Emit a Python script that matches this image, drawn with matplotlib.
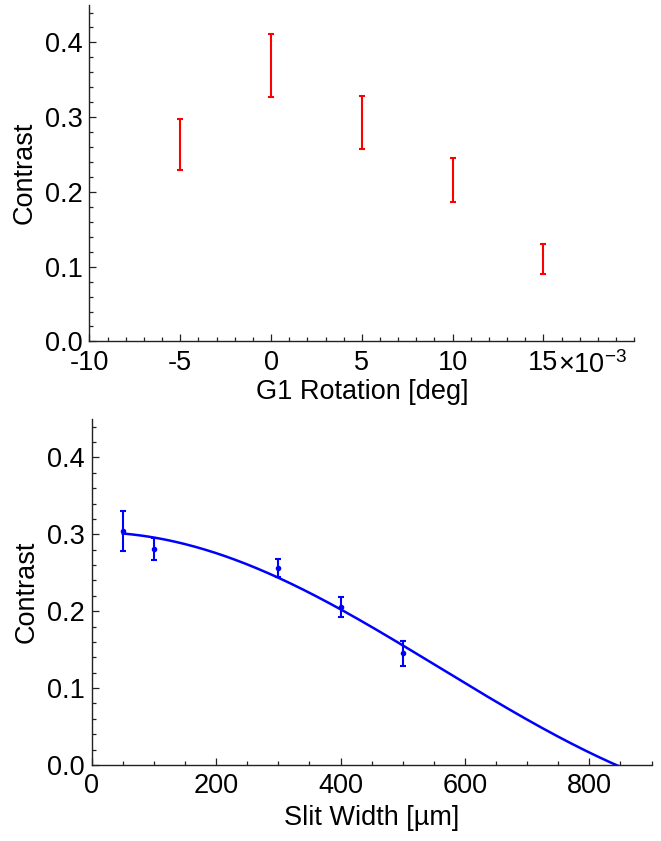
import numpy as np
import matplotlib
import matplotlib.pyplot as plt
from matplotlib.ticker import MultipleLocator, FormatStrFormatter

# ── Dati ──────────────────────────────────────────────────────────────────────
# Rotazione di G1 (in unità di 1e-3 deg) e contrasto misurato
ROT_MDEG   = [-5, 0, 5, 10, 15]
ROT_CONTR  = [0.263, 0.369, 0.2925, 0.216, 0.110]
ROT_ERR    = [0.034, 0.042, 0.0355, 0.030, 0.020]

# Larghezza fenditura (µm) e contrasto misurato
SLIT_UM    = [50, 100, 300, 400, 500]
SLIT_CONTR = [0.304, 0.281, 0.256, 0.206, 0.145]
SLIT_ERR   = [0.026, 0.014, 0.012, 0.013, 0.016]

# Parametri del fit V(w) = V0 * sinc(w / W0)
FIT_V0 = 0.3028
FIT_W0 = 843.0

ROT_XTICKS  = [-10, -5, 0, 5, 10, 15]
ROT_XLABELS = ['-10', '-5', '0', '5', '10', '15']

# ── Stile ─────────────────────────────────────────────────────────────────────
plt.rcParams['font.family'] = ['Liberation Sans', 'DejaVu Sans']
plt.rcParams['mathtext.fontset'] = 'custom'
plt.rcParams['mathtext.rm'] = 'Liberation Sans'
plt.rcParams['axes.unicode_minus'] = False
FS = 19.5
AXC = '#222222'


def style_axes(ax):
    for side in ('top', 'right'):
        ax.spines[side].set_visible(False)
    for side in ('left', 'bottom'):
        ax.spines[side].set_color(AXC)
        ax.spines[side].set_linewidth(1.0)
    ax.tick_params(which='both', direction='in', colors=AXC, labelcolor='black',
                   labelsize=FS, width=0.9)
    ax.tick_params(which='major', length=5, pad=5)
    ax.tick_params(axis='x', which='major', pad=6)
    ax.tick_params(which='minor', length=3)
    ax.set_ylim(0, 0.45)
    ax.yaxis.set_major_locator(MultipleLocator(0.1))
    ax.yaxis.set_minor_locator(MultipleLocator(0.02))
    ax.yaxis.set_major_formatter(FormatStrFormatter('%.1f'))
    ax.set_ylabel('Contrast', fontsize=FS, labelpad=5)


fig = plt.figure(figsize=(6.61, 8.41), dpi=100, facecolor='white')

# ── Pannello superiore: rotazione G1 ──────────────────────────────────────────
ax1 = fig.add_axes([0.1354, 0.594, 0.824, 0.400])
style_axes(ax1)
ax1.errorbar(ROT_MDEG, ROT_CONTR, yerr=ROT_ERR, fmt='none', ecolor='#ff0000',
             elinewidth=1.5, capsize=2.5, capthick=1.5)
ax1.set_xlim(-10, 20)
ax1.set_xticks(ROT_XTICKS)
ax1.set_xticklabels(ROT_XLABELS)
ax1.xaxis.set_minor_locator(MultipleLocator(1))
# fattore di scala accanto all'ultima etichetta
ax1.annotate(r'×10$^{-3}$', xy=(15, 0), xycoords=('data', 'axes fraction'),
             xytext=(10.8, -22.5), textcoords='offset points',
             ha='left', va='baseline', fontsize=FS)
ax1.set_xlabel('G1 Rotation [deg]', fontsize=FS, labelpad=2)

# ── Pannello inferiore: larghezza fenditura ───────────────────────────────────
ax2 = fig.add_axes([0.1387, 0.0904, 0.847, 0.4114])
style_axes(ax2)
w = np.linspace(SLIT_UM[0], 860, 400)
ax2.plot(w, FIT_V0 * np.sinc(w / FIT_W0), color='#0000ff', lw=1.8)
ax2.errorbar(SLIT_UM, SLIT_CONTR, yerr=SLIT_ERR, fmt='o', ms=3, color='#0000ff',
             ecolor='#0000ff', elinewidth=1.5, capsize=2.5, capthick=1.5)
ax2.set_xlim(0, 900)
ax2.xaxis.set_major_locator(MultipleLocator(200))
ax2.xaxis.set_minor_locator(MultipleLocator(50))
ax2.set_xlabel('Slit Width [µm]', fontsize=FS, labelpad=4)

fig.savefig('out.png', dpi=100, facecolor='white')
